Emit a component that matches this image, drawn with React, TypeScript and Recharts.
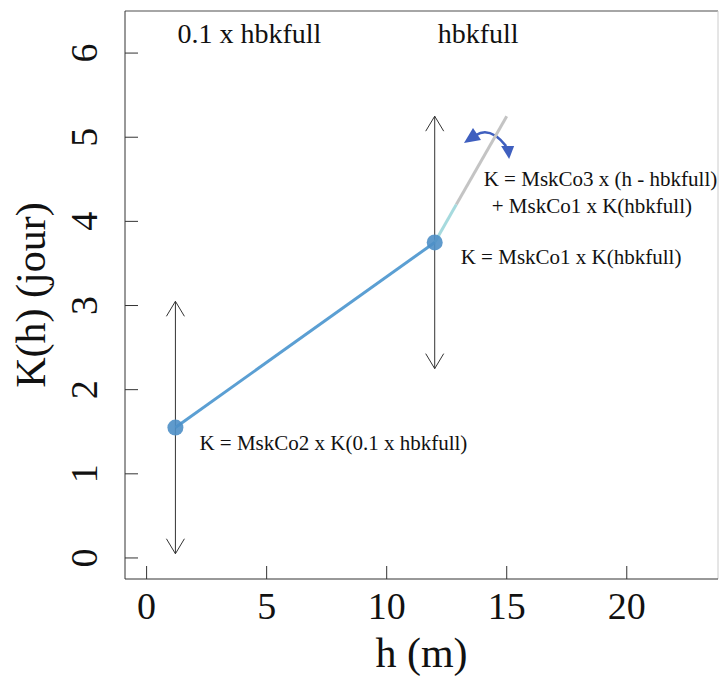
import React from "react";
import {
  ComposedChart,
  Line,
  XAxis,
  YAxis,
  ReferenceLine,
  ReferenceDot,
  Label,
} from "recharts";

// main curve: K(h) at 0.1 x hbkfull and at hbkfull
const hPoints = [1.2, 12];
const kPoints = [1.55, 3.75];

// extension above hbkfull (cyan then grey part)
const hExtCyan = [12, 12.9];
const kExtCyan = [3.75, 4.2];
const hExtGrey = [12.9, 15];
const kExtGrey = [4.2, 5.25];

// double arrows showing the range of the multiplier
const arrowLow = [0.05, 2.25];
const arrowHigh = [3.05, 5.25];

// curved arrow showing slope rotation (tips)
const rotH = [13.22, 15.1];
const rotK = [4.93, 4.74];

const xTicks = [0, 5, 10, 15, 20];
const yTicks = [0, 1, 2, 3, 4, 5, 6];
const xDomain = [-0.9, 23.8];
const yDomain = [-0.25, 6.5];

const topLabels = ["0.1 x hbkfull", "hbkfull"];
const eqLow = "K = MskCo2 x K(0.1 x hbkfull)";
const eqMid = "K = MskCo1 x K(hbkfull)";
const eqTop1 = "K = MskCo3 x (h - hbkfull)";
const eqTop2 = "+ MskCo1 x K(hbkfull)";

const FONT = "'Liberation Serif', 'Times New Roman', serif";

const mainData = hPoints.map((h, i) => ({ h, k: kPoints[i] }));
const cyanData = hExtCyan.map((h, i) => ({ h, k: kExtCyan[i] }));
const greyData = hExtGrey.map((h, i) => ({ h, k: kExtGrey[i] }));

function DoubleArrow(props: any) {
  const { x1, y1, x2, y2 } = props;
  const top = Math.min(y1, y2);
  const bot = Math.max(y1, y2);
  return (
    <g stroke="#333" strokeWidth={1} fill="none">
      <line x1={x1} y1={top} x2={x2} y2={bot} />
      <polyline points={`${x1 - 9},${top + 15} ${x1},${top} ${x1 + 9},${top + 15}`} />
      <polyline points={`${x1 - 9},${bot - 15} ${x1},${bot} ${x1 + 9},${bot - 15}`} />
    </g>
  );
}

function RotArrow(props: any) {
  const { x1, y1, x2, y2 } = props;
  const c = "#3f5fbf";
  return (
    <g>
      <path
        d={`M${x1 + 12},${y1 - 8} Q${x1 + 26},${y1 - 17} ${x2 - 3},${y2 - 13}`}
        stroke={c}
        strokeWidth={2.5}
        fill="none"
      />
      <polygon
        points={`${x1},${y1} ${x1 + 9},${y1 - 15} ${x1 + 17},${y1 - 3}`}
        fill={c}
      />
      <polygon
        points={`${x2},${y2} ${x2 - 8},${y2 - 13} ${x2 + 5},${y2 - 13}`}
        fill={c}
      />
    </g>
  );
}

function textAt(text: string, dx: number, dy: number, size: number) {
  return (props: any) => (
    <text
      x={props.cx + dx}
      y={props.cy + dy}
      fontFamily={FONT}
      fontSize={size}
      fill="#111"
      textAnchor="start"
    >
      {text}
    </text>
  );
}

function XTick(props: any) {
  const { x, y, payload } = props;
  return (
    <text x={x} y={y + 40} textAnchor="middle" fontFamily={FONT} fontSize={38} fill="#111">
      {payload.value}
    </text>
  );
}

function YTick(props: any) {
  const { x, y, payload } = props;
  return (
    <text
      transform={`translate(${x - 28},${y}) rotate(-90)`}
      textAnchor="middle"
      fontFamily={FONT}
      fontSize={38}
      fill="#111"
    >
      {payload.value}
    </text>
  );
}

export default function App() {
  return (
    <div style={{ position: "absolute", left: 0, top: 0, background: "#fff" }}>
      <ComposedChart
        width={719}
        height={680}
        margin={{ top: 11, right: 1, left: 0, bottom: 0 }}
      >
        <XAxis
          type="number"
          dataKey="h"
          domain={xDomain}
          ticks={xTicks}
          allowDataOverflow
          height={101}
          stroke="#333"
          tickSize={-13}
          tickMargin={13}
          tick={<XTick />}
        >
          <Label
            content={(p: any) => {
              const vb = p.viewBox;
              return (
                <text
                  x={vb.x + vb.width / 2}
                  y={vb.y + 88}
                  textAnchor="middle"
                  fontFamily={FONT}
                  fontSize={42}
                  fill="#111"
                >
                  h (m)
                </text>
              );
            }}
          />
        </XAxis>
        <YAxis
          type="number"
          domain={yDomain}
          ticks={yTicks}
          allowDataOverflow
          width={125}
          stroke="#333"
          tickSize={-13}
          tickMargin={13}
          tick={<YTick />}
        >
          <Label
            content={(p: any) => {
              const vb = p.viewBox;
              return (
                <text
                  transform={`translate(45,${vb.y + vb.height / 2}) rotate(-90)`}
                  textAnchor="middle"
                  fontFamily={FONT}
                  fontSize={42}
                  fill="#111"
                >
                  K(h) (jour)
                </text>
              );
            }}
          />
        </YAxis>

        <ReferenceLine y={yDomain[1]} stroke="#888" strokeWidth={1.5} />
        <ReferenceLine x={xDomain[1]} stroke="#ccc" strokeWidth={1} />

        {hPoints.map((h, i) => (
          <ReferenceLine
            key={"arr" + i}
            segment={[
              { x: h, y: arrowLow[i] },
              { x: h, y: arrowHigh[i] },
            ]}
            shape={DoubleArrow}
          />
        ))}

        <ReferenceLine
          segment={[
            { x: rotH[0], y: rotK[0] },
            { x: rotH[1], y: rotK[1] },
          ]}
          shape={RotArrow}
        />

        <Line
          data={greyData}
          dataKey="k"
          stroke="#c4c4c4"
          strokeWidth={3}
          dot={false}
          isAnimationActive={false}
        />
        <Line
          data={cyanData}
          dataKey="k"
          stroke="#a6dade"
          strokeWidth={3}
          dot={false}
          isAnimationActive={false}
        />
        <Line
          data={mainData}
          dataKey="k"
          stroke="#5b9fd3"
          strokeWidth={3}
          dot={{ r: 8, fill: "#4e8fc6", stroke: "none", fillOpacity: 0.9 }}
          isAnimationActive={false}
        />

        <ReferenceDot x={hPoints[0]} y={yDomain[1]} r={0} shape={textAt(topLabels[0], 2, 32, 28)} />
        <ReferenceDot x={hPoints[1]} y={yDomain[1]} r={0} shape={textAt(topLabels[1], 3, 32, 28)} />

        <ReferenceDot x={hPoints[0]} y={kPoints[0]} r={0} shape={textAt(eqLow, 24, 22, 21)} />
        <ReferenceDot x={hPoints[1]} y={kPoints[1]} r={0} shape={textAt(eqMid, 26, 22, 21)} />
        <ReferenceDot x={hPoints[1]} y={kPoints[1]} r={0} shape={textAt(eqTop1, 49, -56, 21)} />
        <ReferenceDot x={hPoints[1]} y={kPoints[1]} r={0} shape={textAt(eqTop2, 57, -29, 21)} />
      </ComposedChart>
    </div>
  );
}
